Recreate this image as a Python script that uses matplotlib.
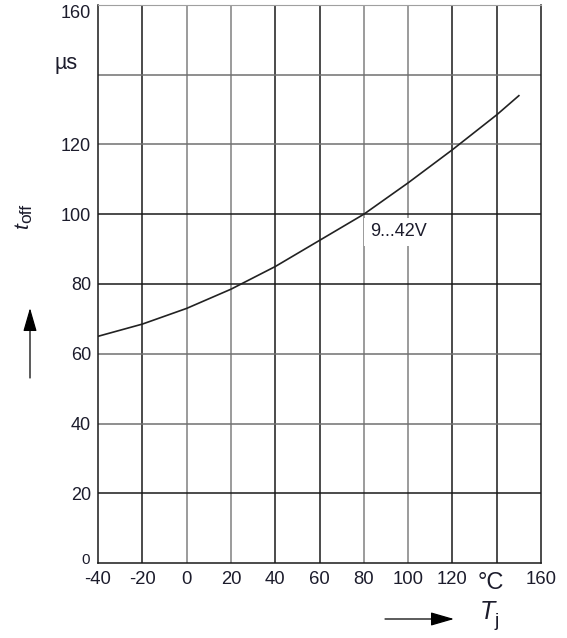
import numpy as np
import matplotlib
matplotlib.use("Agg")
import matplotlib.pyplot as plt

plt.rcParams['font.family'] = ['Liberation Sans', 'DejaVu Sans']

# values
tj = [-40, -20, 0, 20, 40, 60, 80, 100, 120, 140, 150]
toff = [65, 68.5, 73, 78.5, 85, 92.5, 100, 109, 118.5, 128.5, 134]

x_ticks = [-40, -20, 0, 20, 40, 60, 80, 100, 120, 140, 160]
x_labels = ['-40', '-20', '0', '20', '40', '60', '80', '100', '120', '', '160']
y_ticks = [0, 20, 40, 60, 80, 100, 120, 140, 160]
y_labels = ['', '20', '40', '60', '80', '100', '120', '', '160']

txt = '#1c1c2c'

fig = plt.figure(figsize=(5.67, 6.38), dpi=100)
ax = fig.add_axes([98 / 567, 75 / 638, 443 / 567, 558 / 638])
ax.set_xlim(-40, 160)
ax.set_ylim(0, 160)

# grid lines, some drawn darker than others like in the scan
dark_x = [-20, 40, 60, 120, 140]
for x in x_ticks[1:-1]:
    c = '#1a1a1a' if x in dark_x else '#808080'
    ax.axvline(x, color=c, lw=1.1, zorder=1)
dark_y = [100, 80, 20]
for y in y_ticks[1:-1]:
    c = '#1a1a1a' if y in dark_y else '#707070'
    ax.axhline(y, color=c, lw=1.1, zorder=1)

for side in ['left', 'right', 'bottom']:
    ax.spines[side].set_color('#1a1a1a')
    ax.spines[side].set_linewidth(1.1)
ax.spines['top'].set_color('#a0a0a0')

ax.plot(tj, toff, color='#222222', lw=1.2, zorder=3)

ax.text(95.5, 95, '9...42V', fontsize=13, color=txt, ha='center', va='center',
        zorder=4, bbox=dict(facecolor='white', edgecolor='none', pad=4))

ax.set_xticks(x_ticks)
ax.set_xticklabels(x_labels, fontsize=13.3, color=txt)
ax.set_yticks(y_ticks)
ax.set_yticklabels(y_labels, fontsize=13, color=txt)
ax.tick_params(axis='y', length=0, pad=5)
ax.tick_params(axis='x', length=0, pad=6)
ax.get_yticklabels()[-1].set_va('top')

# special labels
fig.text(86 / 567, 1 - 560 / 638, '0', fontsize=11, color=txt, ha='center', va='center')
fig.text(491 / 567, 1 - 583 / 638, '°C', fontsize=17, color=txt, ha='center', va='center')
fig.text(66 / 567, 1 - 63 / 638, 'µs', fontsize=15.5, color=txt, ha='center', va='center')

# axis names: italic symbol with upright subscript
fig.text(23 / 567, 1 - 226 / 638, 't', fontsize=15, style='italic', color=txt,
         rotation=90, ha='center', va='center')
fig.text(27 / 567, 1 - 213 / 638, 'off', fontsize=12.5, color=txt,
         rotation=90, ha='center', va='center')
fig.text(487 / 567, 1 - 612 / 638, 'T', fontsize=18, style='italic', color=txt,
         ha='center', va='center')
fig.text(497 / 567, 1 - 622 / 638, 'j', fontsize=14, color=txt,
         ha='center', va='center')

# direction arrows
style = '-|>,head_length=1.45,head_width=0.42'
fig.add_artist(matplotlib.patches.FancyArrowPatch(
    (30 / 567, 1 - 378 / 638), (30 / 567, 1 - 308 / 638), transform=fig.transFigure,
    arrowstyle=style, mutation_scale=10, color='black', lw=0.9, shrinkA=0, shrinkB=0))
fig.add_artist(matplotlib.patches.FancyArrowPatch(
    (385 / 567, 1 - 619 / 638), (454 / 567, 1 - 619 / 638), transform=fig.transFigure,
    arrowstyle=style, mutation_scale=10, color='black', lw=0.9, shrinkA=0, shrinkB=0))

fig.savefig('out.png', dpi=100)
